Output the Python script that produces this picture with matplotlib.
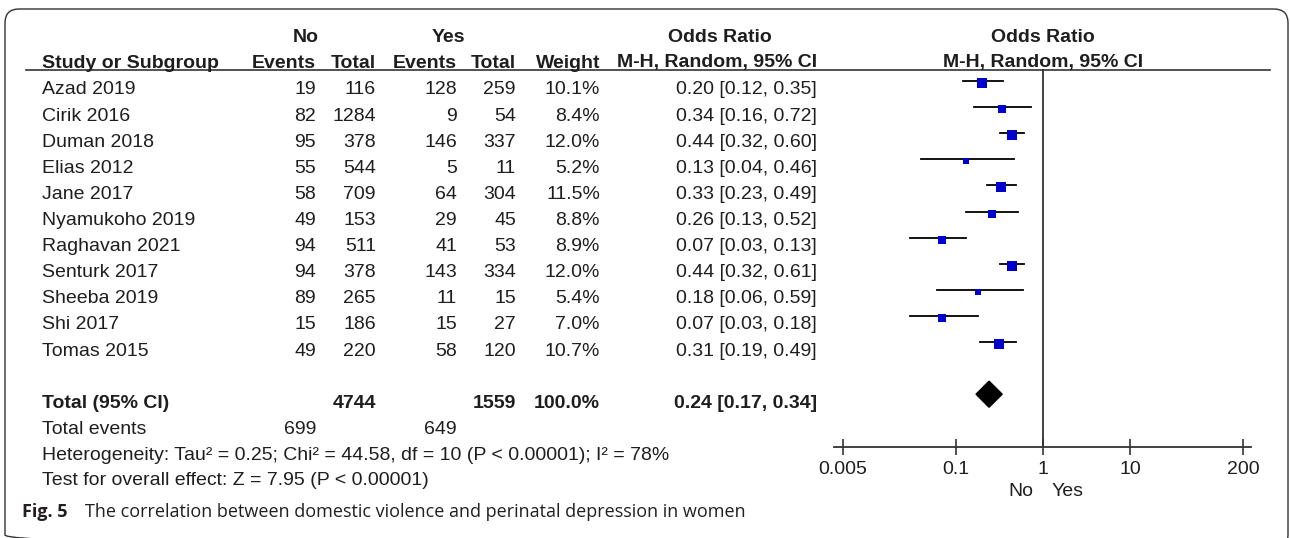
import numpy as np
import matplotlib.pyplot as plt
from matplotlib.patches import FancyBboxPatch, Polygon

plt.rcParams['font.family'] = ['Liberation Sans', 'DejaVu Sans']

studies = ['Azad 2019', 'Cirik 2016', 'Duman 2018', 'Elias 2012', 'Jane 2017',
           'Nyamukoho 2019', 'Raghavan 2021', 'Senturk 2017', 'Sheeba 2019',
           'Shi 2017', 'Tomas 2015']
no_events = [19, 82, 95, 55, 58, 49, 94, 94, 89, 15, 49]
no_total = [116, 1284, 378, 544, 709, 153, 511, 378, 265, 186, 220]
yes_events = [128, 9, 146, 5, 64, 29, 41, 143, 11, 15, 58]
yes_total = [259, 54, 337, 11, 304, 45, 53, 334, 15, 27, 120]
weights = [10.1, 8.4, 12.0, 5.2, 11.5, 8.8, 8.9, 12.0, 5.4, 7.0, 10.7]
odds = [0.20, 0.34, 0.44, 0.13, 0.33, 0.26, 0.07, 0.44, 0.18, 0.07, 0.31]
ci_low = [0.12, 0.16, 0.32, 0.04, 0.23, 0.13, 0.03, 0.32, 0.06, 0.03, 0.19]
ci_high = [0.35, 0.72, 0.60, 0.46, 0.49, 0.52, 0.13, 0.61, 0.59, 0.18, 0.49]

total_no, total_yes = 4744, 1559
events_no, events_yes = 699, 649
total_or, total_low, total_high = 0.24, 0.17, 0.34
ticks = [0.005, 0.1, 1, 10, 200]

W, H = 1290, 538
TXT = '#1e1e1e'
LINE = '#333333'
FS = 14
CAP = 6.5  # half cap height in px, to centre text on a row

fig = plt.figure(figsize=(W / 100, H / 100), dpi=100)
ax = fig.add_axes([0, 0, 1, 1])
ax.set_xlim(0, W)
ax.set_ylim(H, 0)
ax.axis('off')


def put(x, y, s, ha='left', bold=False, **kw):
    ax.text(x, y + CAP, s, ha=ha, va='baseline', fontsize=FS, color=TXT,
            fontweight='bold' if bold else 'normal', **kw)


# rounded frame
frame = FancyBboxPatch((5, 9), 1283, 540, boxstyle='round,pad=0,rounding_size=14',
                       fill=False, ec=LINE, lw=1.0)
ax.add_patch(frame)

# headers
put(306, 35, 'No', 'center', True)
put(448, 35, 'Yes', 'center', True)
put(720, 35, 'Odds Ratio', 'center', True)
put(1043, 35, 'Odds Ratio', 'center', True)
y2 = 61
put(42, y2, 'Study or Subgroup', 'left', True)
for x, s in [(316, 'Events'), (376, 'Total'), (457, 'Events'), (516, 'Total'),
             (600, 'Weight'), (817, 'M-H, Random, 95% CI')]:
    put(x, y2, s, 'right', True)
put(1043, y2, 'M-H, Random, 95% CI', 'center', True)
ax.plot([26, 1270], [69.5, 69.5], color=LINE, lw=1.2)

# study rows
row0, dy = 88, 26.1
for i, name in enumerate(studies):
    y = row0 + i * dy
    put(42, y, name)
    put(316, y, str(no_events[i]), 'right')
    put(376, y, str(no_total[i]), 'right')
    put(457, y, str(yes_events[i]), 'right')
    put(516, y, str(yes_total[i]), 'right')
    put(600, y, f'{weights[i]:.1f}%', 'right')
    put(817, y, f'{odds[i]:.2f} [{ci_low[i]:.2f}, {ci_high[i]:.2f}]', 'right')

# totals
yt = row0 + 12 * dy
put(42, yt, 'Total (95% CI)', 'left', True)
put(376, yt, str(total_no), 'right', True)
put(516, yt, str(total_yes), 'right', True)
put(600, yt, '100.0%', 'right', True)
put(817, yt, f'{total_or:.2f} [{total_low:.2f}, {total_high:.2f}]', 'right', True)

ye = yt + 26
put(42, ye, 'Total events')
put(316, ye, str(events_no), 'right')
put(457, ye, str(events_yes), 'right')
put(42, ye + 26, 'Heterogeneity: Tau² = 0.25; Chi² = 44.58, df = 10 (P < 0.00001); I² = 78%')
put(42, ye + 51, 'Test for overall effect: Z = 7.95 (P < 0.00001)')

put(1021, 490, 'No', 'center')
put(1068, 490, 'Yes', 'center')

# caption
ax.text(22, 517, 'Fig. 5', ha='left', va='baseline', fontsize=13, fontweight='bold',
        family='Open Sans', color='#231f20')
ax.text(85, 517, 'The correlation between domestic violence and perinatal depression in women',
        ha='left', va='baseline', fontsize=13, family='Open Sans', color='#231f20')

# forest plot
x0, x1 = 834, 1251
ytop, ybot = 69, 447
frow0 = 81
fa = fig.add_axes([x0 / W, 1 - ybot / H, (x1 - x0) / W, (ybot - ytop) / H])
fa.set_xscale('log')
fa.set_xlim(10 ** -2.402, 10 ** 2.391)
fa.set_ylim((ybot - frow0) / dy, (ytop - frow0) / dy)
fa.patch.set_alpha(0)
for s in ['top', 'left', 'right']:
    fa.spines[s].set_visible(False)
fa.spines['bottom'].set_color(LINE)
fa.spines['bottom'].set_linewidth(1.3)
fa.set_yticks([])
fa.set_xticks(ticks)
fa.set_xticklabels(['0.005', '0.1', '1', '10', '200'])
fa.minorticks_off()
fa.tick_params(axis='x', direction='inout', length=12, width=1.2, color=LINE,
               labelsize=FS, labelcolor=TXT, pad=4)
fa.axvline(1, color=LINE, lw=1.3)

for i in range(len(studies)):
    fa.plot([ci_low[i], ci_high[i]], [i, i], color='black', lw=1.3)
    fa.plot(odds[i], i + 0.08, marker='s', color='#0000cc', ms=2.1 * np.sqrt(weights[i]), mew=0)

diamond = Polygon([[total_low, 12], [total_or, 11.5], [total_high, 12], [total_or, 12.5]],
                  closed=True, color='black')
fa.add_patch(diamond)

fig.savefig('out.png', dpi=100)
